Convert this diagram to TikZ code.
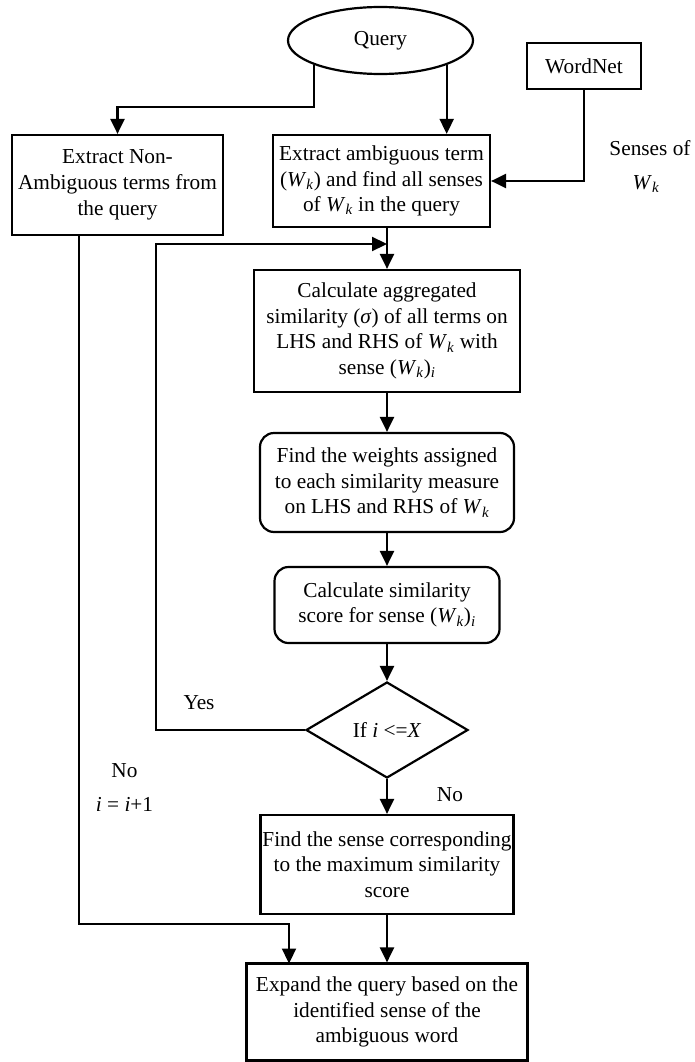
\documentclass[tikz,border=0pt]{standalone}
\usepackage{fontspec}
\setmainfont{Liberation Serif}
\usetikzlibrary{shapes.geometric}
\usetikzlibrary{arrows.meta}
\newcommand{\Wk}{\textit{W}\textsubscript{\textit{k}}}

\begin{document}
\begin{tikzpicture}[x=1pt,y=-1pt,line width=2.2pt,>={Triangle[length=15pt,width=14pt]},
        font=\fontsize{21.3}{25.7}\selectfont,
        box/.style={draw,rectangle,align=center,inner sep=0pt},
        roundbox/.style={box,rounded corners=14pt}]
        \useasboundingbox (0,0) rectangle (694,1062);
        \node[draw,ellipse,minimum width=185pt,minimum height=67pt,inner sep=0pt] (query) at (380.5,40.5) {Query};
        \node[box,minimum width=114pt,minimum height=46pt] (wordnet) at (584,66) {WordNet};
        \node[box,minimum width=211pt,minimum height=100pt] (nonamb) at (117.5,185) {Extract Non-\\Ambiguous terms from\\the query};
        \node[box,minimum width=217pt,minimum height=92pt] (extract) at (381.5,181) {Extract ambiguous term\\(\Wk) and find all senses\\of \Wk{} in the query};
        \node[box,minimum width=266pt,minimum height=122pt] (aggr) at (387,331) {Calculate aggregated\\similarity (\textit{σ}) of all terms on\\LHS and RHS of \Wk{} with\\sense (\Wk)\textsubscript{\textit{i}}};
        \node[roundbox,minimum width=254pt,minimum height=99pt] (weights) at (387,482.5) {Find the weights assigned\\to each similarity measure\\on LHS and RHS of \Wk};
        \node[roundbox,minimum width=225pt,minimum height=76pt] (score) at (387,605) {Calculate similarity\\score for sense (\Wk)\textsubscript{\textit{i}}};
        \node[draw,diamond,minimum width=162pt,minimum height=96pt,inner sep=0pt] (decide) at (387,730) {If \textit{i} <=\textit{X}};
        \node[box,minimum width=253pt,minimum height=99pt] (maxsense) at (387,864.5) {Find the sense corresponding\\to the maximum similarity\\score};
        \node[box,minimum width=281pt,minimum height=97pt] (expand) at (387,1012) {Expand the query based on the\\identified sense of the\\ambiguous word};
        % labels
        \node (senses) at (650,148) {Senses of};
        \node (sensesw) at (646,184) {\Wk};
        \node (yes) at (199,703) {Yes};
        \node (no) at (450,795) {No};
        \node (noleft) at (124.5,771) {No};
        \node (incr) at (124.5,804) {\textit{i} = \textit{i}+1};
        \coordinate (loopin) at (387,244);
        \coordinate (loopleft) at (156,244);
        \coordinate (skipdown) at (79,924);
        \coordinate (skipin) at (289,963.5);
        % arrows
        \draw[->] (query.south west) -- ++(0,42) -| (nonamb.north);
        \draw[->] (query.south east) -- (query.south east |- extract.north);
        \draw[->] (wordnet.south) |- (extract.east);
        \draw[->] (extract.south -| aggr.north) -- (aggr.north);
        \draw[->] (decide.west) -| (loopleft) -- (loopin);
        \draw[->] (aggr) -- (weights);
        \draw[->] (weights) -- (score);
        \draw[->] (score) -- (decide);
        \draw[->] (decide) -- (maxsense);
        \draw[->] (maxsense) -- (expand);
        \draw[->] (nonamb.south -| skipdown) -- (skipdown) -| (skipin);
    \end{tikzpicture}
\end{document}
